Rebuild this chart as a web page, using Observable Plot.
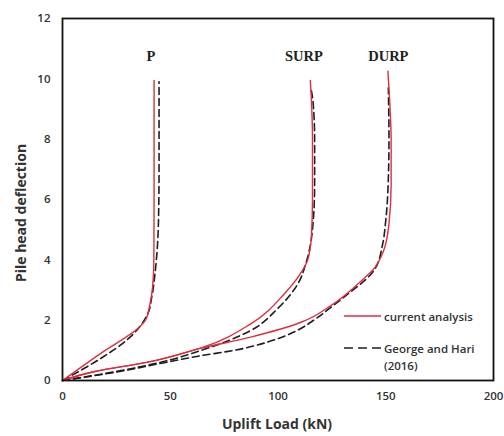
<!DOCTYPE html>
<html>
<head>
<meta charset="utf-8">
<script src="https://cdn.jsdelivr.net/npm/d3@7"></script>
<script src="https://cdn.jsdelivr.net/npm/@observablehq/plot@0.6"></script>
<style>
  html, body { margin: 0; padding: 0; background: #fff; }
  #wrap { position: relative; width: 504px; height: 436px; font-family: "Open Sans", sans-serif; }
  #legend { position: absolute; left: 344px; top: 308px; font-size: 11.5px; font-weight: 600; color: #333; line-height: 17px; }
  .row { display: flex; align-items: flex-start; }
  .row svg { flex: none; margin-right: 3px; }
  #ytitle { position: absolute; left: 20px; top: 213px; transform: translate(-50%, -50%) rotate(-90deg); font-weight: 700; font-size: 14px; color: #333; white-space: nowrap; }
</style>
</head>
<body>
<div id="wrap"></div>
<script>
// ---- Data ----
const xTicks = [0, 50, 100, 150, 200];
const yTicks = [0, 2, 4, 6, 8, 10, 12];

// P (current analysis, red)
const pRedX = [0, 18.6, 35.7, 38.5, 40.5, 41.8, 42.4, 42.5, 42.5];
const pRedY = [0, 0.94, 1.77, 2.0, 2.5, 3.1, 4, 6, 9.95];
// P (George and Hari, dashed)
const pDashX = [0, 18.6, 30, 36, 39.5, 41.5, 43, 44, 44.6, 44.8, 44.8];
const pDashY = [0, 0.77, 1.35, 1.8, 2.2, 2.8, 3.6, 4.4, 5.5, 7, 9.9];

// SURP
const sRedX = [0, 15, 39, 65, 87.4, 102.9, 110, 113.8, 115.5, 116, 116, 115.5, 115];
const sRedY = [0, 0.3, 0.6, 1.1, 1.88, 2.87, 3.5, 4.0, 4.8, 6, 8, 9.3, 9.95];
const sDashX = [0, 25, 46.5, 64, 87.4, 99.8, 109.2, 113, 116, 117, 117, 116.3, 115.3];
const sDashY = [0, 0.3, 0.62, 0.99, 1.66, 2.38, 3.2, 3.9, 5, 6.5, 8, 9.2, 9.7];

// DURP
const dRedX = [0, 15, 39, 65, 87.4, 110.7, 124.7, 138.6, 145, 149, 151.5, 152.5, 152.5, 152, 151];
const dRedY = [0, 0.3, 0.6, 1.08, 1.44, 1.93, 2.49, 3.3, 3.75, 4.3, 5.2, 6.5, 8, 9, 10.25];
const dDashX = [0, 25, 46.5, 64, 79.7, 95, 103, 110, 117, 125, 133, 140, 145, 148.5, 150, 151, 151.5, 151.2];
const dDashY = [0, 0.28, 0.58, 0.82, 1.0, 1.27, 1.47, 1.7, 2.02, 2.45, 2.9, 3.3, 3.7, 4.5, 5.3, 6.3, 8, 9.7];

// Curve labels
const labelText = ["P", "SURP", "DURP"];
const labelX = [41, 112, 151.2];
const labelY = [10.75, 10.75, 10.75];

const seriesNames = ["current analysis", "George and Hari (2016)"];

// ---- Build tables ----
function rows(xs, ys, curve, source) {
  return xs.map((x, i) => ({ x, y: ys[i], curve, source }));
}
const red = [
  ...rows(pRedX, pRedY, "P", seriesNames[0]),
  ...rows(sRedX, sRedY, "SURP", seriesNames[0]),
  ...rows(dRedX, dRedY, "DURP", seriesNames[0])
];
const dash = [
  ...rows(pDashX, pDashY, "P", seriesNames[1]),
  ...rows(sDashX, sDashY, "SURP", seriesNames[1]),
  ...rows(dDashX, dDashY, "DURP", seriesNames[1])
];
const labels = labelText.map((t, i) => ({ t, x: labelX[i], y: labelY[i] }));

const RED = "#dc2e3e";
const BLK = "#1e1e1e";

const chart = Plot.plot({
  width: 504,
  height: 436,
  marginLeft: 62,
  marginRight: 11,
  marginTop: 18,
  marginBottom: 56,
  style: { fontFamily: "Open Sans, sans-serif", fontSize: "11.5px", color: "#333", background: "#fff" },
  x: { domain: [0, 200], ticks: xTicks, tickSize: 0, tickPadding: 11, label: null },
  y: { domain: [0, 12], ticks: yTicks, tickSize: 0, tickPadding: 12, label: null },
  marks: [
    Plot.line(dash, { x: "x", y: "y", z: "curve", stroke: BLK, strokeWidth: 1.6, strokeDasharray: "7,4", curve: "monotone-y" }),
    Plot.line(red, { x: "x", y: "y", z: "curve", stroke: RED, strokeWidth: 1.4, curve: "monotone-y" }),
    Plot.text(labels, { x: "x", y: "y", text: "t", fontFamily: "Liberation Serif, Times New Roman, serif", fontWeight: "bold", fontSize: 14.5, fill: "#222" }),
    Plot.frame({ stroke: "#111", strokeWidth: 1.8 })
  ]
});
chart.style.position = "absolute";
chart.style.left = "0";
chart.style.top = "0";
d3.select(chart).selectAll("g[aria-label$='tick label'] text").attr("font-weight", 600);

const wrap = document.getElementById("wrap");
wrap.appendChild(chart);

// Axis titles
const xt = document.createElement("div");
xt.textContent = "Uplift Load (kN)";
xt.style.cssText = "position:absolute;left:277px;top:423px;transform:translate(-50%,-50%);font-weight:700;font-size:14px;color:#333;white-space:nowrap;";
wrap.appendChild(xt);
const yt = document.createElement("div");
yt.id = "ytitle";
yt.textContent = "Pile head deflection";
wrap.appendChild(yt);

// Legend
const lg = document.createElement("div");
lg.id = "legend";
lg.innerHTML = `
  <div class="row" style="margin-bottom:15px;"><svg width="37" height="15"><line x1="0" x2="37" y1="8" y2="8" stroke="${RED}" stroke-width="1.5"/></svg><span>${seriesNames[0]}</span></div>
  <div class="row"><svg width="37" height="15"><line x1="0" x2="37" y1="8" y2="8" stroke="${BLK}" stroke-width="1.5" stroke-dasharray="9,5"/></svg><span>George and Hari<br>(2016)</span></div>`;
wrap.appendChild(lg);
</script>
</body>
</html>
